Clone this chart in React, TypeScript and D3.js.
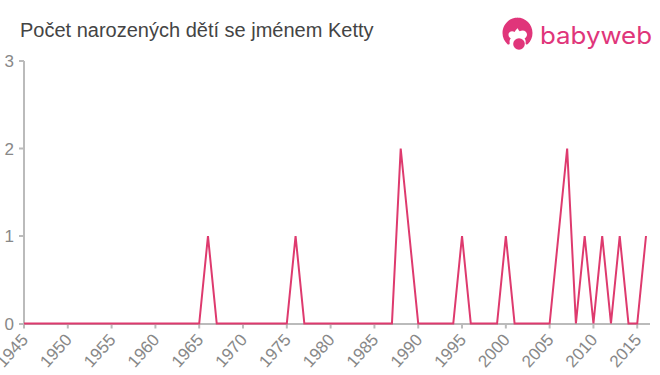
import React from "react";
import * as d3 from "d3";

const title = "Počet narozených dětí se jménem Ketty";
const startYear = 1945;
const counts = [
  0, 0, 0, 0, 0, 0, 0, 0, 0, 0,
  0, 0, 0, 0, 0, 0, 0, 0, 0, 0,
  0, 1, 0, 0, 0, 0, 0, 0, 0, 0,
  0, 1, 0, 0, 0, 0, 0, 0, 0, 0,
  0, 0, 0, 2, 1, 0, 0, 0, 0, 0,
  1, 0, 0, 0, 0, 1, 0, 0, 0, 0,
  0, 1, 2, 0, 1, 0, 1, 0, 1, 0,
  0, 1,
];
const xTicks = [1945, 1950, 1955, 1960, 1965, 1970, 1975, 1980, 1985, 1990, 1995, 2000, 2005, 2010, 2015];
const yTicks = [0, 1, 2, 3];

const PINK = "#e0357a";
const LINE = "#de3a6e";

export default function App() {
  const x = d3.scaleLinear().domain([1945, 2016]).range([24, 646]);
  const y = d3.scaleLinear().domain([0, 3]).range([323.5, 61]);
  const line = d3
    .line<number>()
    .x((_, i) => x(startYear + i))
    .y((d) => y(d));
  return (
    <svg
      width={660}
      height={375}
      style={{ position: "absolute", left: 0, top: 0, fontFamily: "'Liberation Sans', Arial, sans-serif" }}
    >
      <rect width={660} height={375} fill="#fff" />
      <text x={20} y={37} fontSize={20} fill="#444">{title}</text>

      <g stroke="#bbb" strokeWidth={2} fill="none">
        <line x1={x(1945)} x2={x(1945)} y1={y(3)} y2={y(0)} />
        <line x1={19} x2={650} y1={y(0) + 0.5} y2={y(0) + 0.5} />
        <line x1={19} x2={x(1945)} y1={y(3)} y2={y(3)} />
        {yTicks.slice(1, 3).map((t) => (
          <line key={t} x1={19} x2={x(1945)} y1={y(t)} y2={y(t)} />
        ))}
        {xTicks.map((t) => (
          <line key={t} x1={x(t)} x2={x(t)} y1={y(0)} y2={y(0) + 5} />
        ))}
      </g>

      {yTicks.map((t) => (
        <text key={t} x={14} y={y(t) + 6} textAnchor="end" fontSize={17} fill="#888">{t}</text>
      ))}
      {xTicks.map((t) => (
        <text
          key={t}
          textAnchor="end"
          fontSize={17}
          fill="#888"
          transform={`translate(${x(t) + 5},${y(0) + 17}) rotate(-48)`}
        >{t}</text>
      ))}

      <path d={line(counts) ?? ""} fill="none" stroke={LINE} strokeWidth={2} strokeLinejoin="miter" strokeMiterlimit={10} />

      <g>
        <path
          d="M518 17.5c-8.8 0-15.5 6.9-15.5 15.5 0 4.4 1.9 8.3 5 11.2 1 .9 2.5 0 2.2-1.3-.4-1.6.1-3.4 1.1-4.7-1.4-.6-2.3-2-2.3-3.5 0-2.1 1.7-3.5 3.6-3.5 1 0 1.8.3 2.5.9.7-1.5 1.8-2.9 3.2-3.9.3 1.2 1 2.2 1.9 3 .8-.5 1.8-.8 2.9-.8 2.5 0 4.4 1.8 4.4 4.2 0 1.7-1 3.1-2.4 3.8.9 1.2 1.3 2.9 1 4.4-.3 1.4 1.3 2.2 2.3 1.3 2.9-2.9 4.6-6.7 4.6-11.1 0-8.6-6.8-15.5-15.5-15.5z"
          fill={PINK}
        />
        <circle cx={519} cy={44} r={5.8} fill={PINK} />
        <text x={540} y={43.5} fontFamily="Inter, sans-serif" fontSize={24} fill={PINK} textLength={112} lengthAdjust="spacingAndGlyphs">babyweb</text>
      </g>
    </svg>
  );
}
